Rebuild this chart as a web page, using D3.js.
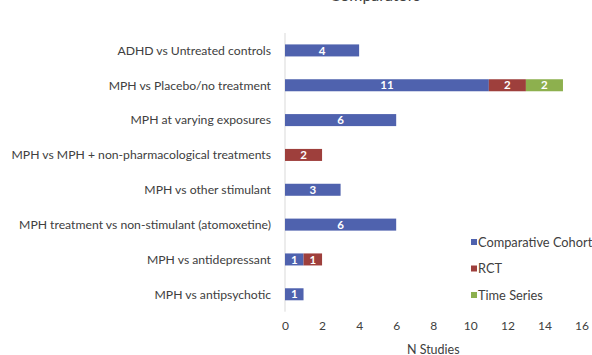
<!DOCTYPE html>
<html>
<head>
<meta charset="utf-8">
<script src="https://cdn.jsdelivr.net/npm/d3@7"></script>
<style>
  html, body { margin: 0; padding: 0; background: #ffffff; }
  svg { display: block; font-family: Lato, "Open Sans", sans-serif; }
</style>
</head>
<body>
<svg id="chart" width="592" height="355"></svg>
<script>
// Comparators by study design
const categories = [
  "ADHD vs Untreated controls",
  "MPH vs Placebo/no treatment",
  "MPH at varying exposures",
  "MPH vs MPH + non-pharmacological treatments",
  "MPH vs other stimulant",
  "MPH treatment vs non-stimulant (atomoxetine)",
  "MPH vs antidepressant",
  "MPH vs antipsychotic"
];
const seriesNames = ["Comparative Cohort", "RCT", "Time Series"];
const comparativeCohort = [4, 11, 6, 0, 3, 6, 1, 1];
const rct = [0, 2, 0, 2, 0, 0, 1, 0];
const timeSeries = [0, 2, 0, 0, 0, 0, 0, 0];
const xTicks = [0, 2, 4, 6, 8, 10, 12, 14, 16];
const colors = ["#4f62ae", "#9e3f3c", "#8db04e"];

const rows = categories.map((c, i) => ({
  category: c,
  "Comparative Cohort": comparativeCohort[i],
  "RCT": rct[i],
  "Time Series": timeSeries[i]
}));

const svg = d3.select("#chart");
const x = d3.scaleLinear().domain([0, 16]).range([285, 581.5]);
const y = d3.scaleBand().domain(categories).range([33, 311.7])
  .paddingInner(0.655).paddingOuter(0.3275);

const stack = d3.stack().keys(seriesNames)(rows);

// Title (runs off the top edge)
svg.append("text")
  .attr("x", 375).attr("y", 1)
  .attr("text-anchor", "middle")
  .attr("font-size", 16)
  .attr("fill", "#404040")
  .text("Comparators");

// Vertical category axis line
svg.append("line")
  .attr("x1", x(0)).attr("x2", x(0))
  .attr("y1", 33).attr("y2", 311.7)
  .attr("stroke", "#d9d9d9").attr("stroke-width", 1);

// Bars
const layer = svg.append("g").selectAll("g").data(stack).join("g")
  .attr("fill", (d, i) => colors[i]);

layer.selectAll("rect")
  .data(d => d.filter(s => s[1] - s[0] > 0).map(s => ({ s, cat: s.data.category })))
  .join("rect")
  .attr("x", d => x(d.s[0]))
  .attr("y", d => y(d.cat))
  .attr("width", d => x(d.s[1]) - x(d.s[0]))
  .attr("height", y.bandwidth());

// Value labels
layer.selectAll("text")
  .data(d => d.filter(s => s[1] - s[0] > 0).map(s => ({ s, cat: s.data.category })))
  .join("text")
  .attr("x", d => (x(d.s[0]) + x(d.s[1])) / 2)
  .attr("y", d => y(d.cat) + y.bandwidth() / 2)
  .attr("dy", "0.36em")
  .attr("text-anchor", "middle")
  .attr("font-size", 11.5)
  .attr("font-weight", "bold")
  .attr("fill", "#ffffff")
  .text(d => d.s[1] - d.s[0]);

// Category labels
svg.append("g").selectAll("text").data(categories).join("text")
  .attr("x", 271)
  .attr("y", d => y(d) + y.bandwidth() / 2)
  .attr("dy", "0.36em")
  .attr("text-anchor", "end")
  .attr("font-size", 12.2)
  .attr("fill", "#404040")
  .text(d => d);

// X axis tick labels
const xAxis = d3.axisBottom(x).tickValues(xTicks).tickSize(0).tickPadding(0);
const gx = svg.append("g").attr("transform", "translate(0,321)").call(xAxis);
gx.select(".domain").remove();
gx.selectAll("text")
  .attr("font-size", 12)
  .attr("font-family", "Lato, 'Open Sans', sans-serif")
  .attr("fill", "#404040");

// X axis title
svg.append("text")
  .attr("x", (x(0) + x(16)) / 2).attr("y", 354)
  .attr("text-anchor", "middle")
  .attr("font-size", 12.5)
  .attr("fill", "#404040")
  .text("N Studies");

// Legend
const legend = svg.append("g").selectAll("g").data(seriesNames).join("g")
  .attr("transform", (d, i) => `translate(471, ${242 + i * 26.5})`);
legend.append("rect")
  .attr("x", 0).attr("y", -3).attr("width", 6).attr("height", 6)
  .attr("fill", (d, i) => colors[i]);
legend.append("text")
  .attr("x", 7).attr("y", 0).attr("dy", "0.36em")
  .attr("font-size", 12.8)
  .attr("fill", "#404040")
  .text(d => d);
</script>
</body>
</html>
